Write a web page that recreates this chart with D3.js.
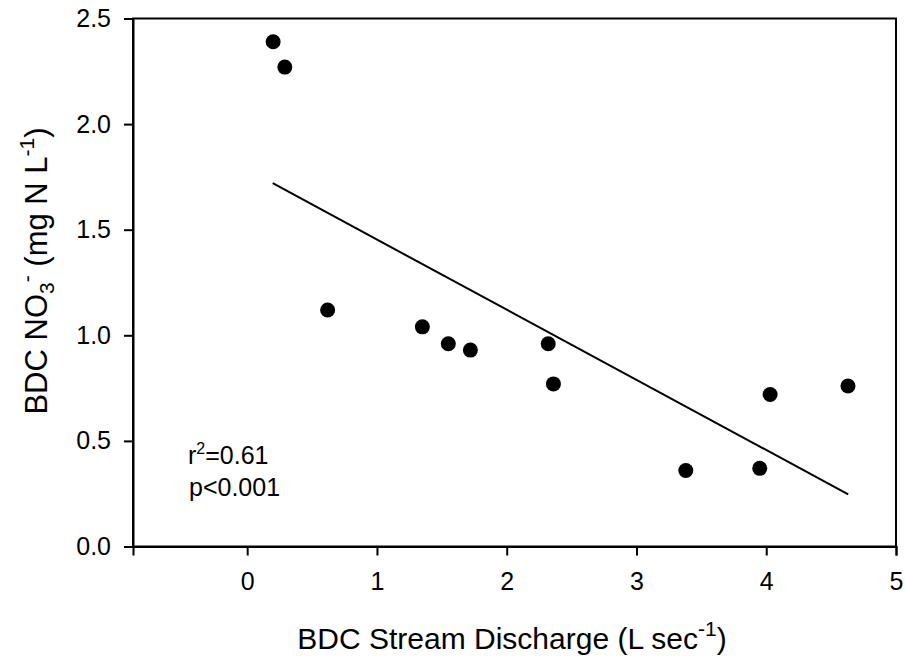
<!DOCTYPE html>
<html>
<head>
<meta charset="utf-8">
<script src="https://cdn.jsdelivr.net/npm/d3@7"></script>
<style>
  body { margin: 0; background: #fff; }
  svg { display: block; font-family: "Liberation Sans", Arial, sans-serif; }
</style>
</head>
<body>
<div id="chart"></div>
<script>
// discharge (L/sec) and nitrate (mg N/L)
const discharge = [0.20, 0.29, 0.62, 1.35, 1.55, 1.72, 2.32, 2.36, 3.38, 3.95, 4.03, 4.63];
const nitrate   = [2.39, 2.27, 1.12, 1.04, 0.96, 0.93, 0.96, 0.77, 0.36, 0.37, 0.72, 0.76];

// fitted regression line end points
const fitX = [0.197, 4.632];
const fitY = [1.720, 0.247];

const xTicks = [0, 1, 2, 3, 4, 5];
const yTicks = [0, 0.5, 1.0, 1.5, 2.0, 2.5];

const width = 905, height = 661,
  margin = ({ top: 18.5, right: 9, bottom: 114.5, left: 133 });

const svg = d3.select("#chart")
  .append("svg")
  .attr("width", width)
  .attr("height", height);

let x = d3.scaleLinear()
  .domain([-0.88, 5])
  .range([margin.left, width - margin.right]);

let y = d3.scaleLinear()
  .domain([0, 2.5])
  .range([height - margin.bottom, margin.top]);

// frame
svg.append("rect")
  .attr("x", x.range()[0])
  .attr("y", y.range()[1])
  .attr("width", x.range()[1] - x.range()[0])
  .attr("height", y.range()[0] - y.range()[1])
  .attr("fill", "none")
  .attr("stroke", "#000")
  .attr("stroke-width", 2);

const yAxis = svg.append("g")
  .attr("transform", `translate(${margin.left},0)`)
  .call(d3.axisLeft(y)
    .tickValues(yTicks)
    .tickFormat(d3.format(".1f"))
    .tickSizeOuter(0)
    .tickSize(9)
    .tickPadding(13));

const xAxis = svg.append("g")
  .attr("transform", `translate(0,${height - margin.bottom})`)
  .call(d3.axisBottom(x)
    .tickValues(xTicks)
    .tickFormat(d3.format("d"))
    .tickSizeOuter(0)
    .tickSize(9)
    .tickPadding(17));

[xAxis, yAxis].forEach(g => {
  g.select(".domain").attr("stroke-width", 2);
  g.selectAll(".tick line").attr("stroke-width", 2);
  g.selectAll(".tick text")
    .attr("font-size", 25)
    .attr("font-family", "Liberation Sans, Arial, sans-serif")
    .attr("fill", "#000");
});

// regression line
let line = d3.line()
  .x(d => x(d[0]))
  .y(d => y(d[1]));

svg.append("path")
  .datum(d3.zip(fitX, fitY))
  .attr("d", line)
  .attr("fill", "none")
  .attr("stroke", "#000")
  .attr("stroke-width", 2);

// points
svg.append("g")
  .selectAll("circle")
  .data(d3.zip(discharge, nitrate))
  .join("circle")
  .attr("cx", d => x(d[0]))
  .attr("cy", d => y(d[1]))
  .attr("r", 7.5)
  .attr("fill", "#000");

// stats text
const stats = svg.append("text")
  .attr("x", 188)
  .attr("y", 464)
  .attr("font-size", 25);
stats.append("tspan").text("r");
stats.append("tspan").attr("font-size", 16).attr("dy", -10).text("2");
stats.append("tspan").attr("dy", 10).text("=0.61");

svg.append("text")
  .attr("x", 189)
  .attr("y", 496)
  .attr("font-size", 25)
  .text("p<0.001");

// x axis title
const xLab = svg.append("text")
  .attr("x", 512)
  .attr("y", 649)
  .attr("text-anchor", "middle")
  .attr("font-size", 30);
xLab.append("tspan").text("BDC Stream Discharge (L sec");
xLab.append("tspan").attr("font-size", 21).attr("dy", -13).text("-1");
xLab.append("tspan").attr("dy", 13).text(")");

// y axis title
const yLab = svg.append("text")
  .attr("transform", "translate(47,271) rotate(-90)")
  .attr("text-anchor", "middle")
  .attr("font-size", 31);
yLab.append("tspan").text("BDC NO");
yLab.append("tspan").attr("font-size", 21).attr("dy", 7).text("3");
yLab.append("tspan").attr("font-size", 21).attr("dy", -20).text("-");
yLab.append("tspan").attr("dy", 13).text(" (mg N L");
yLab.append("tspan").attr("font-size", 21).attr("dy", -13).text("-1");
yLab.append("tspan").attr("dy", 13).text(")");
</script>
</body>
</html>
